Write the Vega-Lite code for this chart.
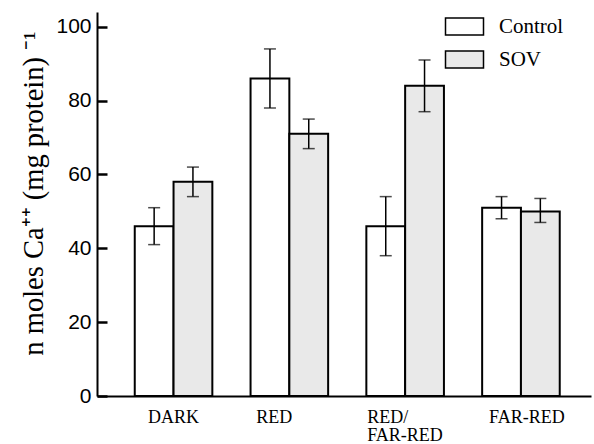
{
  "$schema": "https://vega.github.io/schema/vega-lite/v6.json",
  "width": 494,
  "height": 384,
  "autosize": "none",
  "padding": {"left": 97, "top": 12, "right": 3, "bottom": 48},
  "background": "white",
  "config": {"view": {"stroke": null}, "font": "Liberation Serif"},
  "data": {
    "values": [
      {"light": "DARK", "group": "Control", "value": 46, "lo": 41, "hi": 51},
      {"light": "DARK", "group": "SOV", "value": 58, "lo": 54, "hi": 62},
      {"light": "RED", "group": "Control", "value": 86, "lo": 78, "hi": 94},
      {"light": "RED", "group": "SOV", "value": 71, "lo": 67, "hi": 75},
      {"light": "RED/FAR-RED", "group": "Control", "value": 46, "lo": 38, "hi": 54},
      {"light": "RED/FAR-RED", "group": "SOV", "value": 84, "lo": 77, "hi": 91},
      {"light": "FAR-RED", "group": "Control", "value": 51, "lo": 48, "hi": 54},
      {"light": "FAR-RED", "group": "SOV", "value": 50, "lo": 47, "hi": 53.5}
    ]
  },
  "resolve": {"axis": {"y": "independent"}},
  "encoding": {
    "x": {
      "field": "light",
      "type": "nominal",
      "sort": null,
      "scale": {"paddingInner": 0.33, "paddingOuter": 0.298, "align": 0.547},
      "axis": {
        "title": null,
        "ticks": false,
        "domainColor": "black",
        "domainWidth": 2,
        "labelFont": "Liberation Serif",
        "labelFontSize": 18,
        "labelColor": "black",
        "labelPadding": 12,
        "labelAngle": 0,
        "labelLineHeight": 18,
        "labelExpr": "datum.label == 'RED/FAR-RED' ? ['RED/', 'FAR-RED'] : datum.label",
        "labelAlign": {"condition": {"test": "datum.value == 'RED/FAR-RED'", "value": "left"}, "value": "center"},
        "labelOffset": {"condition": [{"test": "datum.value == 'RED'", "value": -15}, {"test": "datum.value == 'FAR-RED'", "value": 6}, {"test": "datum.value == 'RED/FAR-RED'", "value": -38}], "value": 0}
      }
    },
    "xOffset": {"field": "group", "type": "nominal", "scale": {"paddingInner": 0, "paddingOuter": 0}}
  },
  "layer": [
    {
      "mark": {"type": "bar", "stroke": "black", "strokeWidth": 2},
      "encoding": {
        "y": {
          "field": "value",
          "type": "quantitative",
          "scale": {"domain": [0, 104], "nice": false},
          "axis": {
            "values": [0, 20, 40, 60, 80, 100],
            "grid": false,
            "ticks": false,
            "domainColor": "black",
            "domainWidth": 2,
            "labelFont": "Liberation Sans",
            "labelFontSize": 21,
            "labelColor": "black",
            "labelPadding": 6,
            "title": "n moles Ca⁺⁺ (mg protein) ⁻¹",
            "titleFont": "Liberation Serif",
            "titleFontSize": 28.5,
            "titleFontWeight": "normal",
            "titleColor": "black",
            "titleAngle": 270,
            "titleX": -55,
            "titleY": 181,
            "titleAlign": "center",
            "titleBaseline": "alphabetic"
          }
        },
        "fill": {
          "field": "group",
          "type": "nominal",
          "scale": {"domain": ["Control", "SOV"], "range": ["white", "#e9e9e9"]},
          "legend": {
            "orient": "none",
            "legendX": 357,
            "legendY": 4,
            "title": null,
            "padding": 0,
            "symbolType": "M-2,-0.9H2V0.9H-2Z",
            "symbolSize": 361,
            "symbolStrokeColor": "black",
            "symbolStrokeWidth": 1.5,
            "symbolOpacity": 1,
            "labelFont": "Liberation Serif",
            "labelFontSize": 21,
            "labelColor": "black",
            "labelOffset": 24,
            "rowPadding": 8
          }
        }
      }
    },
    {
      "mark": {"type": "rule", "strokeWidth": 1.5, "color": "black"},
      "encoding": {
        "y": {
          "field": "lo",
          "type": "quantitative",
          "scale": {"domain": [0, 104], "nice": false},
          "axis": {
            "orient": "right",
            "offset": -494,
            "values": [0, 20, 40, 60, 80, 100],
            "grid": false,
            "domain": false,
            "labels": false,
            "title": null,
            "ticks": true,
            "tickSize": 10,
            "tickWidth": 2.5,
            "tickColor": "black"
          }
        },
        "y2": {"field": "hi"}
      }
    },
    {
      "mark": {"type": "tick", "orient": "horizontal", "size": 12, "thickness": 1.5, "color": "black"},
      "encoding": {
        "y": {"field": "lo", "type": "quantitative", "scale": {"domain": [0, 104], "nice": false}, "axis": null}
      }
    },
    {
      "mark": {"type": "tick", "orient": "horizontal", "size": 12, "thickness": 1.5, "color": "black"},
      "encoding": {
        "y": {"field": "hi", "type": "quantitative", "scale": {"domain": [0, 104], "nice": false}, "axis": null}
      }
    }
  ]
}
